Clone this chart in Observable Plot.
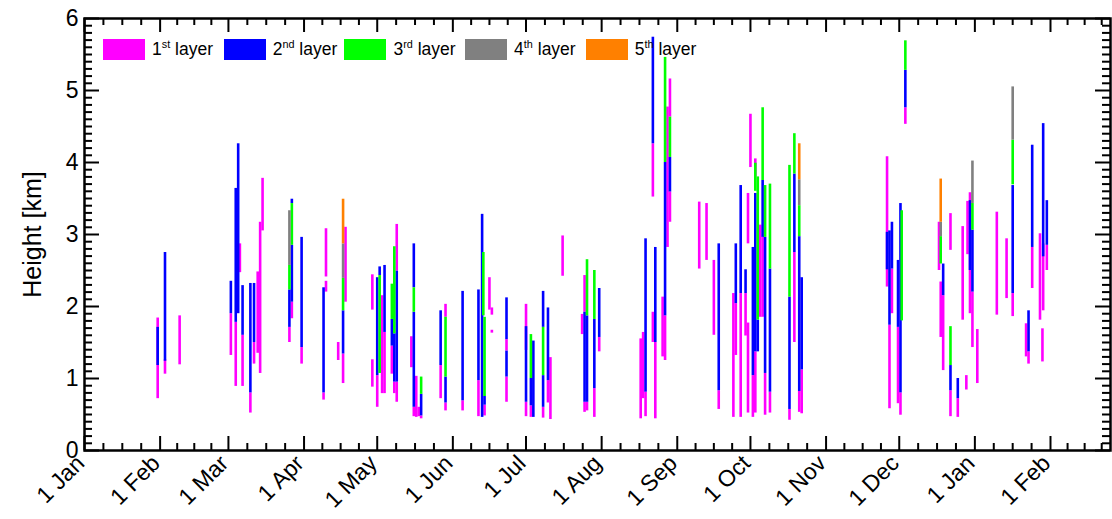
<!DOCTYPE html>
<html><head><meta charset="utf-8">
<script src="https://cdn.jsdelivr.net/npm/d3@7"></script>
<script src="https://cdn.jsdelivr.net/npm/@observablehq/plot@0.6"></script>
<style>
body{margin:0;background:#fff;font-family:"Liberation Sans",Arial,sans-serif;}
#wrap{position:relative;width:1112px;height:519px;}
.lg{position:absolute;top:39px;display:flex;align-items:center;font-size:17.5px;line-height:21px;color:#000;white-space:nowrap;}
.sw{width:42px;height:21px;margin-right:7px;}
.lg sup{font-size:0.62em;vertical-align:0;position:relative;top:-0.5em;}
</style></head><body><div id="wrap"></div>
<script>
// ---- data: [day since 1 Jan, bottom km, top km] ----
const layerNames = ["1st", "2nd", "3rd", "4th", "5th"];
const layerColors = ["#ff00ff", "#0000ff", "#00ff00", "#808080", "#ff8000"];

const layer1 = [
  [30,0.72,1.84],[33,1.06,1.26],[39,1.19,1.87],[60,1.32,1.9],[62,0.89,1.78],[63.7,2.47,2.87],
  [64.8,0.89,1.6],[68,0.52,0.8],[69.5,1.2,1.5],[71,1.35,2.48],[72,1.07,3.17],[73,3.05,3.78],
  [84,1.5,1.71],[85,1.83,2.06],[89,1.2,1.43],[98,0.7,0.8],[99,2.41,3.08],[99,2.2,2.35],
  [104,1.25,1.5],[106,0.93,1.34],[107,2.06,3.1],[118,1.95,2.44],[118,0.88,1.26],[120,0.6,1.04],
  [122,0.79,2.15],[123,0.79,1.64],[126,1.06,1.45],[127,0.79,0.95],[128,2.49,3.14],[128,0.67,0.95],
  [134,1.15,1.58],[135,0.47,0.6],[136,0.46,1.03],[137,0.47,0.6],[138,0.44,0.48],[146,0.72,1.18],
  [148,1.85,2.03],[148,0.55,0.66],[155,0.55,0.69],[161.5,0.47,0.97],[164,0.48,0.63],[166,1.95,2.4],
  [167,1.88,1.98],[167,1.63,1.67],[173,1.38,1.54],[173,0.67,1.02],[181,1.39,2.03],[181,0.47,0.67],
  [183,0.46,0.62],[188,0.45,0.6],[190,0.66,0.97],[191,0.43,1.29],[196,2.42,2.98],[204,1.61,1.89],
  [205,1.92,2.43],[205,0.53,0.67],[206,0.55,0.67],[209,0.46,0.86],[211,1.37,1.57],
  [228,0.44,1.55],[229,0.72,1.64],[230,0.47,0.81],[233,3.52,4.26],[233,1.5,1.92],[234,0.44,1.5],
  [237,1.3,2.13],[238,1.25,1.87],[239,2.82,4.77],[240,4.63,5.16],[240,3.17,3.59],
  [252,2.52,3.45],[255,2.64,3.43],[258,1.6,2.64],[260,0.57,0.83],[266,0.46,2.18],[267,1.32,2.04],
  [269,0.46,2.18],[271,1.59,2.18],[272,2.87,3.57],[272,0.52,1.77],[273,3.93,4.67],[274,0.46,1.04],
  [275,3.8,4.05],[275,0.52,1.37],[277,1.85,3.13],[278,1.85,2.96],[279,0.49,1.07],[281,0.52,0.81],
  [289,0.42,0.57],[291,1.5,2.75],[293,0.53,0.82],[294,0.51,1.12],
  [329,2.27,4.08],[330,0.58,1.74],[331,1.9,2.52],[333.5,0.65,1.71],[334.5,0.49,0.8],[336.5,4.53,4.76],
  [350.3,2.5,3.17],[351,1.57,2.34],[352,1.11,2.15],[355,2.78,3.29],[355,0.47,0.83],[358,0.46,0.72],
  [360,1.81,3.11],[361.5,0.84,1.04],[362,2.72,3.46],[363,1.9,3.58],[364,1.43,2.2],[366,0.93,1.68],
  [374,1.88,3.31],[378,2.11,2.94],[380.5,1.86,2.18],[386,1.3,1.76],[387,1.2,1.37],[388.5,2.25,2.82],
  [391.7,1.81,3.01],[392.7,1.23,1.69],[393,1.94,2.87],[394.5,2.5,2.85]
];

const layer2 = [
  [30,1.18,1.71],[33,1.24,2.75],[60,1.9,2.35],[62,1.78,3.64],[63,1.9,4.26],[64.8,1.6,2.29],
  [68,0.8,2.32],[69.5,1.5,2.32],[84,1.71,2.23],[85,2.06,2.85],[85,3.43,3.49],[89,1.43,2.96],
  [98,0.8,2.26],[106,1.34,1.94],[120,1.04,2.4],[121,2.43,2.55],[123,1.64,2.57],[126,1.45,1.82],
  [127,0.95,1.62],[128,0.95,2.49],[135,0.6,1.92],[135,2.26,2.87],[138,0.48,0.78],[146,1.18,1.94],
  [148,0.66,1.02],[155,0.69,2.21],[161.5,0.97,2.23],[163,0.46,3.28],[164,0.63,0.75],
  [173,1.54,2.12],[173,1.02,1.38],[181,0.67,1.72],[183,0.62,1.0],[184,0.46,1.52],[188,1.71,2.21],
  [188,0.6,1.04],[190,0.97,1.98],[205,0.67,1.92],[206,0.67,1.87],[209,0.86,1.82],[211,1.57,2.25],
  [230,0.81,2.94],[233,4.26,5.74],[234,1.5,2.82],[238,1.87,4.0],[240,3.59,4.07],
  [260,0.83,2.87],[267,2.04,2.87],[269,2.18,3.68],[271,2.18,2.51],[274,1.04,2.82],[275,1.37,3.57],
  [276,1.37,1.81],[278,2.96,3.75],[279,1.07,2.96],[281,0.81,2.52],[289,0.57,2.13],[291,2.75,3.84],
  [293,0.82,2.97],[294,1.12,2.4],
  [329,2.51,3.03],[330,1.74,3.05],[331,2.52,3.17],[333.5,1.71,2.64],[334.5,0.8,3.43],[336.5,4.76,5.28],
  [352,2.15,2.59],[355,0.83,1.18],[358,0.72,1.0],[363,2.5,3.47],[364,2.2,3.06],[380.5,2.18,3.68],
  [387,1.37,1.94],[388.5,2.82,4.24],[393,2.69,4.54],[394.5,2.85,3.47]
];

const layer3 = [
  [84,2.23,2.57],[85,2.85,3.43],[106,1.94,2.39],[121,1.07,2.43],[126,1.82,2.31],[127,1.62,2.83],
  [135,1.92,2.26],[138,0.78,1.02],[148,1.02,1.85],[163.5,1.87,2.75],[164,0.75,1.85],[183,1.0,1.61],
  [188,1.04,1.71],[206,1.87,2.65],[209,1.82,2.5],[238,4.0,5.46],[240,4.07,4.63],[275,3.6,3.99],
  [276,1.81,3.8],[278,3.75,4.76],[279,2.96,3.68],[281,2.52,3.7],[289,2.13,3.96],[291,3.84,4.4],
  [293,2.97,3.4],[335,1.8,3.33],[336.5,5.28,5.69],[351,2.59,2.97],[355,1.18,1.72],[364,3.06,3.43],
  [380.5,3.69,4.31]
];

const layer4 = [
  [84,2.57,3.33],[106,2.39,2.87],[293,3.4,3.76],[351,2.97,3.17],[364,3.43,4.02],[380.5,4.31,5.05]
];

const layer5 = [
  [106,2.87,3.49],[293,3.76,4.26],[351,3.17,3.77]
];

// ---- axis ticks ----
const monthStarts = [0,31,59,90,120,151,181,212,243,273,304,334,365,396];
const monthLabels = ["1 Jan","1 Feb","1 Mar","1 Apr","1 May","1 Jun","1 Jul","1 Aug","1 Sep","1 Oct","1 Nov","1 Dec","1 Jan","1 Feb"];
const nextMonthAfterLast = 424;
const xMax = 420.6;
const yMajor = [0,1,2,3,4,5,6];

const minorX = [];
monthStarts.forEach((s, i) => {
  const e = i + 1 < monthStarts.length ? monthStarts[i + 1] : nextMonthAfterLast;
  [0.25, 0.5, 0.75].forEach(q => { const v = s + (e - s) * q; if (v < xMax) minorX.push(v); });
});
const minorY = d3.range(0, 61).map(v => v / 10).filter(v => v % 1 !== 0);

const labelByDay = new Map(monthStarts.map((d, i) => [d, monthLabels[i]]));

const rows = [layer1, layer2, layer3, layer4, layer5].flatMap((L, k) =>
  L.map(([day, lo, hi]) => ({day, lo, hi, layer: layerNames[k]})));

const W = 1112, H = 519, mL = 84, mR = 2, mT = 18, mB = 69;
const plotW = W - mL - mR, plotH = H - mT - mB;
const font = "'Liberation Sans', Arial, sans-serif";

const chart = Plot.plot({
  width: W, height: H,
  marginLeft: mL, marginRight: mR, marginTop: mT, marginBottom: mB,
  style: {fontFamily: font, background: "#fff", color: "#000"},
  x: {domain: [0, xMax], label: null},
  y: {domain: [0, 6], label: null},
  color: {type: "ordinal", domain: layerNames, range: layerColors},
  marks: [
    Plot.ruleX(rows, {x: "day", y1: "lo", y2: "hi", stroke: "layer", strokeWidth: 2.6}),
    Plot.ruleX(monthStarts, {insetTop: plotH - 14, strokeWidth: 2}),
    Plot.ruleX(monthStarts, {insetBottom: plotH - 14, strokeWidth: 2}),
    Plot.ruleX(minorX, {insetTop: plotH - 7, strokeWidth: 2}),
    Plot.ruleX(minorX, {insetBottom: plotH - 7, strokeWidth: 2}),
    Plot.ruleY(yMajor, {insetRight: plotW - 15, strokeWidth: 2}),
    Plot.ruleY(yMajor, {insetLeft: plotW - 15, strokeWidth: 2}),
    Plot.ruleY(minorY, {insetRight: plotW - 8, strokeWidth: 2}),
    Plot.ruleY(minorY, {insetLeft: plotW - 8, strokeWidth: 2}),
    Plot.frame({stroke: "#000", strokeWidth: 2.5}),
    Plot.axisX(monthStarts, {
      tickSize: 0, tickPadding: 9, tickRotate: -45, textAnchor: "end", dx: -4,
      tickFormat: d => labelByDay.get(d), fontSize: 23, label: null
    }),
    Plot.axisY(yMajor, {tickSize: 0, tickPadding: 6, fontSize: 23, tickFormat: d => String(d), label: null}),
    Plot.text(["Height [km]"], {frameAnchor: "left", dx: -52, rotate: -90, fontSize: 25, textAnchor: "middle"})
  ]
});

const wrap = document.getElementById("wrap");
wrap.appendChild(chart);

// legend inside the plot, top-left
const legendSup = ["st", "nd", "rd", "th", "th"];
layerNames.forEach((name, i) => {
  const item = document.createElement("div");
  item.className = "lg";
  item.style.left = (103 + i * 120.7) + "px";
  item.innerHTML = `<span class="sw" style="background:${layerColors[i]}"></span>${i + 1}<sup>${legendSup[i]}</sup>&nbsp;layer`;
  wrap.appendChild(item);
});
</script></body></html>
